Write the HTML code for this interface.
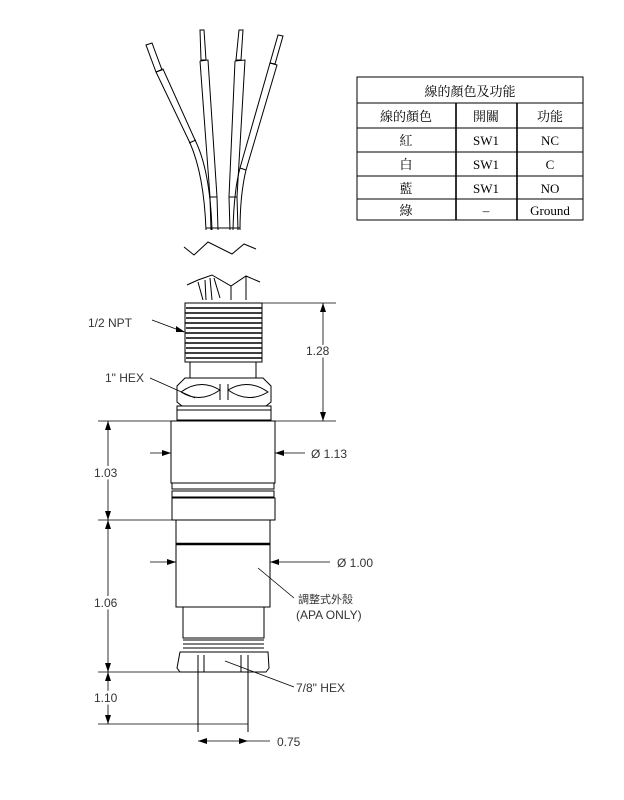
<!DOCTYPE html>
<html><head><meta charset="utf-8"><style>
body{margin:0;background:#fff;}
svg{display:block;font-family:"Liberation Sans","Noto Sans CJK TC",sans-serif;}
.t{font-family:"Liberation Serif","Noto Serif CJK SC",serif;font-size:13px;}
.lb text{paint-order:stroke;stroke:#fff;stroke-width:5px;}
</style></head><body>
<svg width="624" height="800" viewBox="0 0 624 800" fill="none" stroke="#000" stroke-width="1">
<!-- wires -->
<g stroke-width="1">
<path d="M146 45 L152 43 L162 70 L156 72 Z"/>
<path d="M156 72 L163 69 L195 140 Q210 170 212 230 M156 72 L190 143 Q204 175 206 230"/>
<path d="M189 143 L196 140"/>
<path d="M200 30 L204 30 L206 60 L201 60 Z"/>
<path d="M200 61 L208 60 L217 197 L218 230 M200 61 L210 197 L211 230 M210 197 L217 197"/>
<path d="M239 30 L243 30 L241 60 L236 60 Z"/>
<path d="M235 61 L245 60 L237 197 L238 230 M235 61 L229 197 L230 230 M229 197 L237 197"/>
<path d="M278 35 L283 36 L275 64 L270 63 Z"/>
<path d="M270 63 L277 65 L246 170 Q240 195 240 230 M270 63 L240 168 Q234 190 233 230 M240 168 L246 170"/>
<path d="M206 228 H240"/>
<path d="M184 247 L194 255 L208 242 L232 254 L244 244 L256 249"/>
<path d="M187 285 L198 280 L212 275 L231 286 L246 276 L260 282"/>
<path d="M198 282 L203 300 M205 280 L206 300 M210 278 L212 300 M214 278 L220 298 M231 286 V300 M246 276 V300"/>
</g>
<!-- body -->
<g>
<rect x="185" y="303" width="77" height="59"/>
<path d="M186 308 H262 M185 313 H262 M186 318 H262 M185 323 H262 M186 328 H262 M185 333 H262 M186 338 H262 M185 343 H262 M186 348 H262 M185 353 H262 M186 358 H262" stroke-width="1.6"/>
<rect x="190" y="362" width="66" height="16"/>
<path d="M185 378 H263 L271 386 V402 L266 406 H182 L177 402 V386 Z"/>
<path d="M181 392 Q200 378 220 390 Q200 404 181 392 M228 390 Q248 378 268 392 Q248 404 228 390 M220 384 V400 M228 384 V400"/>
<rect x="177" y="406" width="94" height="14"/>
<path d="M177 410 H271"/>
<rect x="171" y="421" width="104" height="62"/>
<path d="M172 483 H274 V489 H172 Z M172 491 H274 V497 H172 Z"/>
<rect x="172" y="498" width="103" height="22"/>
<rect x="176" y="520" width="94" height="87"/>
<path d="M176 544 H270" stroke-width="2.5"/>
<rect x="183" y="607" width="81" height="31"/>
<path d="M183 640 H264 M183 644 H264 M183 648 H264"/>
<path d="M180 652 H268 L269 668 L266 672 H180 L177 668 Z"/>
<path d="M198 655 V672 M204 655 V672 M241 655 V672 M248 655 V672"/>
<path d="M198 672 V732 M248 672 V732"/>
</g>
<!-- dimension lines -->
<g stroke-width="0.8">
<path d="M262 303 H336 M271 421 H336 M323 303 V421 M98 421 H171 M98 520 H172 M98 672 H180 M98 724 H248"/>
<path d="M108 421 V520 M108 520 V672 M108 672 V724"/>
<path d="M150 453 H171 M275 453 H305"/>
<path d="M150 562 H176 M270 562 H330"/>
<path d="M198 741 H248 L270 741"/>
<path d="M152 320 L184 332 M150 378 L195 398 M258 568 L294 598 M225 661 L294 687"/>
</g>
<g fill="#000" stroke="none">
<path d="M323 303 l-3 9 h6z M323 421 l-3 -9 h6z"/>
<path d="M108 421 l-3 9 h6z M108 520 l-3 -9 h6z M108 520 l-3 9 h6z M108 672 l-3 -9 h6z M108 672 l-3 9 h6z M108 724 l-3 -9 h6z"/>
<path d="M171 453 l-9 -3 v6z M275 453 l9 -3 v6z M176 562 l-9 -3 v6z M270 562 l9 -3 v6z M198 741 l9 -3 v6z M248 741 l-9 -3 v6z M185 332 l-9 -6 v6z"/>
</g>
<g fill="#333" font-size="12" class="lb">
<text x="88" y="327">1/2 NPT</text>
<text x="105" y="382">1" HEX</text>
<text x="306" y="355">1.28</text>
<text x="94" y="477">1.03</text>
<text x="311" y="458">Ø 1.13</text>
<text x="94" y="607">1.06</text>
<text x="337" y="567">Ø 1.00</text>
<text x="298" y="603" font-size="11" font-family="Noto Sans CJK TC,sans-serif">調整式外殼</text>
<text x="296" y="619">(APA ONLY)</text>
<text x="296" y="692">7/8" HEX</text>
<text x="94" y="702">1.10</text>
<text x="277" y="746">0.75</text>
</g>
<!-- table -->
<g>
<rect x="357" y="77" width="226" height="143"/>
<path d="M357 103 H583 M357 128 H583 M357 152 H583 M357 176 H583 M357 199 H583"/>
<path d="M456 103 V220 M517 103 V220" stroke-width="1.6"/>
</g>
<g fill="#000" stroke="none" class="t" text-anchor="middle">
<text x="470" y="96">線的顏色及功能</text>
<text x="406" y="121">線的顏色</text>
<text x="486" y="121">開關</text>
<text x="550" y="121">功能</text>
<text x="406" y="145">紅</text><text x="486" y="145">SW1</text><text x="550" y="145">NC</text>
<text x="406" y="169">白</text><text x="486" y="169">SW1</text><text x="550" y="169">C</text>
<text x="406" y="193">藍</text><text x="486" y="193">SW1</text><text x="550" y="193">NO</text>
<text x="406" y="215">綠</text><text x="486" y="215">–</text><text x="550" y="215">Ground</text>
</g>
</svg>
</body></html>
